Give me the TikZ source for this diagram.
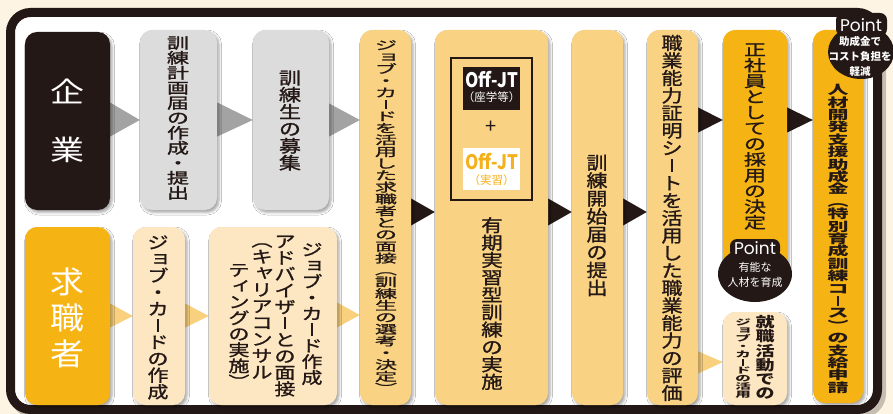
\documentclass[tikz,border=0pt]{standalone}
\usepackage{fontspec}
\usepackage{graphicx}
\setmainfont{Noto Sans CJK JP}
\newfontfamily\mfont{Noto Sans CJK JP}[FakeBold=1.2]
\newfontfamily\pointfont{Poppins}
\usetikzlibrary{shadows.blur,shapes.geometric}
\definecolor{bgc}{HTML}{FDF4E3}
\definecolor{ink}{HTML}{231815}
\definecolor{grayb}{HTML}{DCDCDC}
\definecolor{creamb}{HTML}{FDE7C2}
\definecolor{orangeb}{HTML}{F9D383}
\definecolor{yellowb}{HTML}{F6B414}
\definecolor{grayarr}{HTML}{A3A3A3}
\definecolor{lightarr}{HTML}{F9D07E}
\definecolor{ojorange}{HTML}{F4B11C}
\pgfdeclarelayer{bg}
\pgfsetlayers{bg,main}
\ExplSyntaxOn
\NewDocumentCommand\vt{mm}{
  \vbox{\baselineskip=#1\relax\lineskiplimit=-\maxdimen\lineskip=0pt\relax
    \tl_map_inline:nn{#2}{\hbox~to~1em{\hss##1\hss}}}
}
\ExplSyntaxOff
% vertical text: step between characters (px) and font size (px); glyphs are flattened to fit the step
\newcommand\vts[3]{\scalebox{1}[\fpeval{#1/#2}]{\vt{#2pt}{#3}}}
\newcommand\vb{\rule{0.1em}{0.76em}}
\newcommand\sk[1]{\raisebox{.12em}{\kern.12em#1\kern-.12em}}
\newcommand\bx[6]{\node[#2, minimum width={#5-#3}, minimum height={#6-#4}] (#1) at ({(#3+#5)/2},{(#4+#6)/2}) {};}
\newcommand\tri[6]{\path[fill=#6] let \p1=(#1.east), \p2=(#2.west) in (\x1-1pt,-#3pt) -- (\x2,-#4pt) -- (\x1-1pt,-#5pt) -- cycle;}
\tikzset{
  basebox/.style={rectangle, rounded corners=12pt, inner sep=0pt,
    blur shadow={shadow xshift=2pt, shadow yshift=-2.5pt, shadow blur radius=2.5pt, shadow opacity=35}},
  entbox/.style={basebox, fill=ink},
  yelbox/.style={basebox, fill=yellowb},
  graybox/.style={basebox, fill=grayb},
  creambox/.style={basebox, fill=creamb},
  orbox/.style={basebox, fill=orangeb},
  vtx/.style={inner sep=0pt, text=ink},
  fs/.style={font=\mfont\fontsize{#1}{#1}\selectfont},
  fsb/.style={font=\fontsize{#1}{#1}\selectfont\bfseries},
}
\begin{document}
\begin{tikzpicture}[x=1pt,y=-1pt]
\useasboundingbox (0,0) rectangle (893,414);
% boxes
\bx{ent}{entbox}{25}{32}{110}{210}
\bx{job}{yelbox}{25}{227}{110}{405}
\bx{g1}{graybox}{140}{30}{217}{210}
\bx{g2}{graybox}{253}{30}{329}{210}
\bx{c1}{creambox}{133}{227}{185}{405}
\bx{c2}{creambox}{209}{227}{337}{405}
\bx{o1}{orbox}{360}{30}{411}{405}
\bx{o2}{orbox}{435}{30}{548}{405}
\bx{o3}{orbox}{572}{30}{623}{405}
\bx{o4}{orbox}{647}{30}{698}{405}
\bx{y1}{yelbox}{723}{30}{787}{275}
\bx{c3}{creambox}{723}{312}{787}{405}
\bx{y2}{yelbox}{813}{30}{863}{403}
\begin{pgfonlayer}{bg}
\fill[bgc] (0,0) rectangle (893,414);
\draw[black, opacity=0.22, line width=9pt, rounded corners=20pt] (14,16) rectangle (881.5,413.5);
\draw[ink, fill=white, line width=9pt, rounded corners=20pt] (10.5,12.5) rectangle (877.5,409.5);
\tri{ent}{g1}{102}{120}{137}{grayarr}
\tri{g1}{g2}{102}{120}{137}{grayarr}
\tri{g2}{o1}{103}{120}{137}{grayarr}
\tri{job}{c1}{303}{316}{328}{lightarr}
\tri{c1}{c2}{303}{316}{328}{lightarr}
\tri{c2}{o1}{302}{315}{328}{lightarr}
\tri{o1}{o2}{198}{212}{226}{ink}
\tri{o2}{o3}{198}{212}{226}{ink}
\tri{o3}{o4}{198}{212}{226}{ink}
\tri{o4}{y1}{107}{120}{133}{ink}
\tri{y1}{y2}{107}{120}{133}{ink}
\tri{o4}{c3}{351}{362}{374}{lightarr}
\end{pgfonlayer}
% texts
\node[vtx, text=white, font=\fontsize{34}{34}\selectfont] (tent) at (67,121) {\scalebox{1}[0.82]{\vt{70pt}{企業}}};
\node[vtx, text=white, font=\fontsize{34}{34}\selectfont] (tjob) at (67,318) {\scalebox{1}[0.9]{\vt{40pt}{求職者}}};
\node[vtx, fs=22] (tg1) at (178,118) {\vts{15}{22}{訓練計画届の作成・提出}};
\node[vtx, fs=22] (tg2) at (290,120.5) {\vts{17}{22}{訓練生の募集}};
\node[vtx, fs=22] (to1) at (386,216.5) {\vts{11.83}{22}{ジ{\sk{ョ}}ブ・カ{\vb}ドを活用した求職者との面接︵訓練生の選考・決定︶}};
\node[vtx, fs=21.5] (to2) at (492,303.5) {\vts{17.4}{21.5}{有期実習型訓練の実施}};
\node[vtx, fs=21] (to3) at (597,225.5) {\vts{17.9}{21}{訓練開始届の提出}};
\node[vtx, fs=21] (to4) at (672,218) {\vts{17.5}{21}{職業能力証明シ{\vb}トを活用した職業能力の評価}};
\node[vtx, fs=22] (ty1) at (755,136.5) {\vts{15.7}{22}{正社員としての採用の決定}};
\node[vtx, fsb=21] (ty2) at (838,239) {\vts{12.4}{21}{人材開発支援助成金︵特別育成訓練コ{\vb}ス︶の支給申請}};
\node[vtx, fs=21] (tc1) at (158,317.5) {\vts{16.6}{21}{ジ{\sk{ョ}}ブ・カ{\vb}ドの作成}};
\node[vtx, fs=21] (tc2a) at (312,314) {\vts{16}{21}{ジ{\sk{ョ}}ブ・カ{\vb}ド作成}};
\node[vtx, fs=21] (tc2b) at (285,316) {\vts{16.4}{21}{アドバイザ{\vb}との面接}};
\node[vtx, fs=21] (tc2c) at (262,311) {\vts{16.5}{21}{︵キ{\sk{ャ}}リアコンサル}};
\node[vtx, fs=21] (tc2d) at (239,326) {\vts{16}{21}{テ{\sk{ィ}}ングの実施︶}};
\node[vtx, fsb=19] (tc3a) at (765,357.5) {\vts{14.2}{19}{就職活動での}};
\node[vtx, fsb=15.5] (tc3b) at (743,358.5) {\vts{8.1}{15.5}{ジ{\sk{ョ}}ブ・カ{\vb}ドの活用}};
% Off-JT block
\node[draw=ink, line width=1.6pt, minimum width=81, minimum height=142, inner sep=0pt] (ojf) at (491.5,129) {};
\node[fill=ink, minimum width=57, minimum height=43, inner sep=0pt] (oj1) at (491.5,88.5) {};
\node[fill=white, minimum width=57, minimum height=42, inner sep=0pt] (oj2) at (491.5,169) {};
\node[inner sep=0pt, text=white, fsb=20] (oj1a) at (491.5,80) {\scalebox{0.85}[1]{Off-JT}};
\node[inner sep=0pt, text=white, font=\fontsize{11.5}{11.5}\selectfont] (oj1b) at (491.5,97.5) {（座学等）};
\node[inner sep=0pt, text=ojorange, fsb=20] (oj2a) at (491.5,162) {\scalebox{0.85}[1]{Off-JT}};
\node[inner sep=0pt, text=ojorange, font=\fontsize{11.5}{11.5}\selectfont] (oj2b) at (491.5,180) {（実習）};
\node[vtx, font=\fontsize{20}{20}\selectfont] (plus) at (491,127) {+};
% Point bubbles
\node[ellipse, fill=ink, minimum width=66, minimum height=54, inner sep=0pt] (pb1) at (861,52) {};
\fill[ink, rounded corners=7pt] (836,13) rectangle (887,36);
\node[inner sep=0pt, text=white, font=\pointfont\fontsize{17}{17}\selectfont] (pt1) at (861,25) {Point};
\node[inner sep=0pt, text=white, font=\fontsize{10.5}{15}\selectfont\bfseries, align=center] (pl1) at (860,56) {助成金で\\コスト負担を\\軽減};
\node[ellipse, fill=ink, minimum width=74, minimum height=56, inner sep=0pt] (pb2) at (755,274) {};
\fill[ink, rounded corners=7pt] (730,239) rectangle (780,258);
\node[inner sep=0pt, text=white, font=\pointfont\fontsize{17}{17}\selectfont] (pt2) at (755,248) {Point};
\node[inner sep=0pt, text=white, font=\fontsize{11}{15}\selectfont, align=center] (pl2) at (755,275) {有能な\\人材を育成};
\end{tikzpicture}
\end{document}
